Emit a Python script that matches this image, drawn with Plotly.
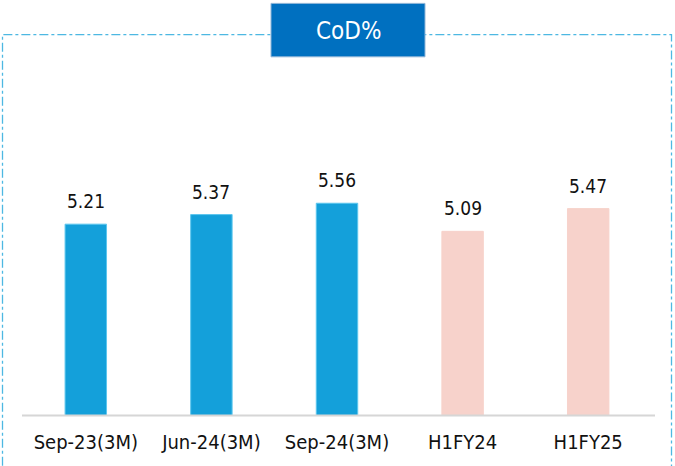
import plotly.graph_objects as go

categories = ["Sep-23(3M)", "Jun-24(3M)", "Sep-24(3M)", "H1FY24", "H1FY25"]
values = [5.21, 5.37, 5.56, 5.09, 5.47]
bar_colors = ["#14A0DA", "#14A0DA", "#14A0DA", "#F7D2CB", "#F7D2CB"]
edge_colors = ["#5CC6EE", "#5CC6EE", "#5CC6EE", "#F7D2CB", "#F7D2CB"]
value_labels = ["5.21", "5.37", "5.56", "5.09", "5.47"]
title_text = "CoD%"

W, H = 675, 466
L, R, T, B = 23, 24, 40, 46
PW, PH = W - L - R, H - T - B


def px(x):
    return (x - L) / PW


def py(y):
    return (H - B - y) / PH


FONT = "DejaVu Sans Condensed, DejaVu Sans, sans-serif"

fig = go.Figure()
fig.add_trace(go.Bar(
    x=categories, y=values, width=0.33,
    marker=dict(color=bar_colors, line=dict(color=edge_colors, width=1)),
    hoverinfo="skip",
))

for c, v, t in zip(categories, values, value_labels):
    fig.add_annotation(x=c, y=v, text=t, showarrow=False, yanchor="bottom",
                       yshift=10, font=dict(family=FONT, size=19, color="#111111"))

# dashed frame
fig.add_shape(type="rect", xref="paper", yref="paper",
              x0=px(2.5), x1=px(671.5), y0=py(475), y1=py(34.5),
              line=dict(color="#4DB8E2", width=1.3, dash="dashdot"), layer="below")
# baseline
fig.add_shape(type="line", xref="paper", yref="paper",
              x0=px(22), x1=px(655), y0=py(419.5), y1=py(419.5),
              line=dict(color="#D6D6D6", width=2), layer="above")
# title box
fig.add_shape(type="rect", xref="paper", yref="paper",
              x0=px(271), x1=px(425), y0=py(57), y1=py(3),
              fillcolor="#0070C0", line=dict(color="#8FB5D8", width=1), layer="above")
fig.add_annotation(xref="paper", yref="paper", x=px(348), y=py(31), text=title_text,
                   showarrow=False, xanchor="center", yanchor="middle",
                   font=dict(family=FONT, size=24, color="white"))

fig.update_layout(
    width=W, height=H,
    margin=dict(l=L, r=R, t=T, b=B),
    plot_bgcolor="white", paper_bgcolor="white",
    showlegend=False,
    bargap=0.67,
)
fig.update_xaxes(showline=False, showgrid=False, zeroline=False, ticks="",
                 tickfont=dict(family=FONT, size=20, color="#111111"),
                 ticklabelstandoff=12)
fig.update_yaxes(range=[2, 2 + PH / 60.4], visible=False, showgrid=False, zeroline=False)

fig.write_html("out.html", config={"displayModeBar": False},
               post_script="document.body.style.margin='0';")
